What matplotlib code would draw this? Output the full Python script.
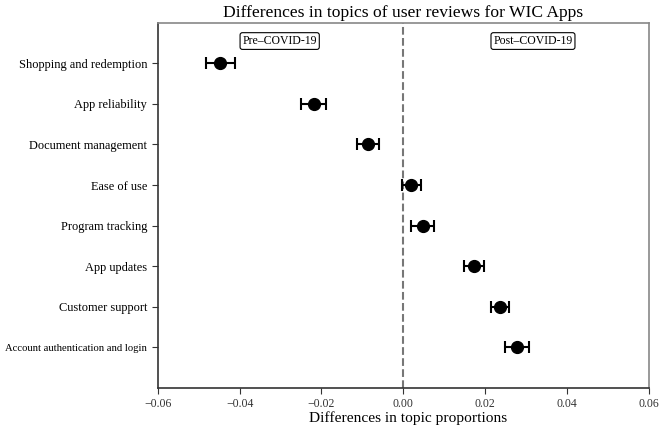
import matplotlib.pyplot as plt

# topic differences (post minus pre) with error half-widths
topics = ['Shopping and redemption', 'App reliability', 'Document management',
          'Ease of use', 'Program tracking', 'App updates', 'Customer support',
          'Account authentication and login']
diffs = [-0.0447, -0.0219, -0.0086, 0.0020, 0.0048, 0.0173, 0.0236, 0.0278]
errs = [0.0035, 0.0031, 0.0026, 0.0024, 0.0028, 0.0024, 0.0022, 0.0030]
xticks = [-0.06, -0.04, -0.02, 0.00, 0.02, 0.04, 0.06]

plt.rcParams['font.family'] = ['Liberation Serif', 'DejaVu Serif']

fig = plt.figure(figsize=(6.6, 4.3), dpi=100)
ax = fig.add_axes([0.239, 0.098, 0.744, 0.849])

ypos = list(range(len(topics)))
ax.errorbar(diffs, ypos, xerr=errs, fmt='o', color='black', markersize=8.5,
            elinewidth=1.5, capsize=4, capthick=1.5, zorder=3)
ax.axvline(0, color='#777777', linestyle='--', linewidth=1.5, zorder=1)

ax.set_xlim(-0.06, 0.06)
ax.set_ylim(8, -1)
ax.set_xticks(xticks)
ax.set_xticklabels(['\u22120.06', '\u22120.04', '\u22120.02', '0.00', '0.02', '0.04', '0.06'],
                   fontsize=8.5, color='#333333')
ax.set_yticks(ypos)
ax.set_yticklabels(topics, fontsize=8.9)
# the last label is squeezed narrower in the original
ax.get_yticklabels()[-1].set_fontsize(7.7)
ax.tick_params(axis='both', length=4, color='#333333')

for s in ['left', 'bottom']:
    ax.spines[s].set_color('#333333')
    ax.spines[s].set_linewidth(1.2)
for s in ['top', 'right']:
    ax.spines[s].set_color('#888888')
    ax.spines[s].set_linewidth(1.2)

box = dict(boxstyle='round,pad=0.2', facecolor='white', edgecolor='black', linewidth=0.8)
ax.text(-0.0302, -0.55, 'Pre\u2013COVID-19', ha='center', va='center', fontsize=8.5, bbox=box)
ax.text(0.0317, -0.55, 'Post\u2013COVID-19', ha='center', va='center', fontsize=8.5, bbox=box)

ax.set_xlabel('Differences in topic proportions', fontsize=11.1)
ax.xaxis.set_label_coords(0.51, -0.063)
ax.set_title('Differences in topics of user reviews for WIC Apps', fontsize=12.6, pad=4)

fig.savefig('out.png', dpi=100)
